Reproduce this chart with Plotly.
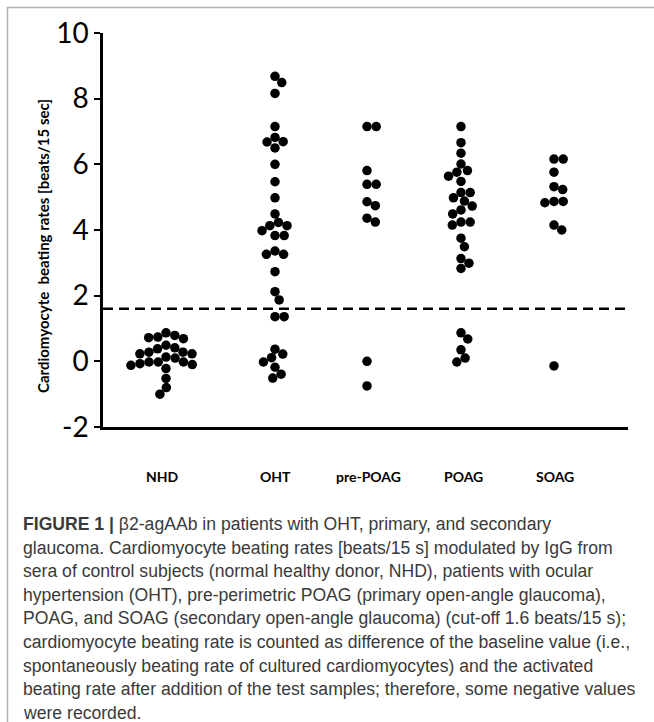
import numpy as np
import plotly.graph_objects as go

# ---------------- data ----------------
groups = ["NHD", "OHT", "pre-POAG", "POAG", "SOAG"]
nhd = [0.87, 0.79, 0.74, 0.72, 0.69, 0.49, 0.41, 0.38, 0.28, 0.28, 0.23, 0.23,
       0.13, 0.10, -0.02, -0.02, -0.02, -0.07, -0.10, -0.12, -0.22, -0.52, -0.80, -1.00]
oht = [8.68, 8.49, 8.16, 7.15, 6.82, 6.69, 6.68, 6.50, 6.00, 5.47, 4.98, 4.49,
       4.23, 4.13, 4.13, 3.98, 3.83, 3.83, 3.36, 3.26, 3.26, 2.73, 2.12, 1.87,
       1.36, 1.36, 0.37, 0.22, 0.11, -0.02, -0.18, -0.39, -0.51]
pre_poag = [7.15, 7.15, 5.81, 5.39, 5.39, 4.86, 4.74, 4.36, 4.24, 0.00, -0.75]
poag = [7.15, 6.66, 6.34, 6.01, 5.81, 5.76, 5.64, 5.48, 5.14, 5.14, 4.98, 4.88,
        4.73, 4.61, 4.49, 4.24, 4.24, 4.15, 3.75, 3.49, 3.13, 2.99, 2.83,
        0.87, 0.68, 0.35, 0.10, -0.02]
soag = [6.16, 6.16, 5.76, 5.32, 5.23, 4.87, 4.87, 4.83, 4.15, 4.00, -0.14]
series = [nhd, oht, pre_poag, poag, soag]
cutoff = 1.6
y_ticks = [-2, 0, 2, 4, 6, 8, 10]

caption_lines = [
    "<b>FIGURE 1 |</b> β2-agAAb in patients with OHT, primary, and secondary",
    "glaucoma. Cardiomyocyte beating rates [beats/15 s] modulated by IgG from",
    "sera of control subjects (normal healthy donor, NHD), patients with ocular",
    "hypertension (OHT), pre-perimetric POAG (primary open-angle glaucoma),",
    "POAG, and SOAG (secondary open-angle glaucoma) (cut-off 1.6 beats/15 s);",
    "cardiomyocyte beating rate is counted as difference of the baseline value (i.e.,",
    "spontaneously beating rate of cultured cardiomyocytes) and the activated",
    "beating rate after addition of the test samples; therefore, some negative values",
    "were recorded.",
]

# ---------------- layout geometry ----------------
W, H = 654, 722
L, R, T, B = 103, 628, 33, 427
PW, PH = R - L, B - T
YMIN, YMAX = -2, 10
yscale = PH / (YMAX - YMIN)          # px per unit
centers_px = [166, 275, 367, 461, 554]
label_px = [162, 275, 368, 463, 555]
centers = [c - L for c in centers_px]  # x-axis units = px from plot left


def px_x(px):
    return (px - L) / PW


def px_y(py):
    return (B - py) / PH


def swarm(vals, d, ys_scale):
    ys = np.array(vals, dtype=float) * ys_scale
    order = np.argsort(-ys, kind="stable")
    placed = []
    xs = np.zeros(len(vals))
    for i in order:
        y = ys[i]
        cands = [0.0]
        for xj, yj in placed:
            dy = abs(y - yj)
            if dy < d:
                dx = np.sqrt(d * d - dy * dy)
                cands += [xj - dx, xj + dx]
        best = 0.0
        for c in sorted(cands, key=lambda c: (round(abs(c), 6), -c)):
            if all((c - xj) ** 2 + (y - yj) ** 2 >= d * d - 1e-6 for xj, yj in placed):
                best = c
                break
        xs[i] = best
        placed.append((best, y))
    return xs


fig = go.Figure()
for name, vals, cx in zip(groups, series, centers):
    offs = swarm(vals, 9.2, yscale)
    fig.add_trace(go.Scatter(
        x=cx + offs, y=vals, mode="markers", name=name,
        marker=dict(color="black", size=9.5, line=dict(width=0)),
        showlegend=False, hoverinfo="y",
    ))

# cut-off dashed line
fig.add_shape(type="line", xref="paper", yref="y", x0=0, x1=1, y0=cutoff, y1=cutoff,
              line=dict(color="black", width=2.5, dash="10px,6px"))

annotations = []
for name, lx in zip(groups, label_px):
    annotations.append(dict(x=px_x(lx), y=px_y(476), xref="paper", yref="paper",
                            text=f"<b>{name}</b>",
                            showarrow=False, xanchor="center", yanchor="middle",
                            font=dict(family="Lato", size=14, color="black")))
annotations.append(dict(x=px_x(43), y=px_y(246), xref="paper", yref="paper",
                        text="<b>Cardiomyocyte  beating rates [beats/15 sec]</b>",
                        textangle=-90, showarrow=False, xanchor="center", yanchor="middle",
                        font=dict(family="Lato", size=15, color="black")))
for i, line in enumerate(caption_lines):
    annotations.append(dict(x=px_x(21), y=px_y(524 + i * 23.6), xref="paper", yref="paper",
                            text=line, showarrow=False, xanchor="left", yanchor="middle",
                            font=dict(family="Liberation Sans", size=17.6, color="#3a3a3a")))

# frame lines
fig.add_shape(type="line", xref="paper", yref="paper", x0=px_x(7.5), x1=px_x(7.5),
              y0=px_y(7), y1=px_y(722), line=dict(color="#b0b0b0", width=1.5))
fig.add_shape(type="line", xref="paper", yref="paper", x0=px_x(7), x1=px_x(654),
              y0=px_y(7.5), y1=px_y(7.5), line=dict(color="#b0b0b0", width=1.5))

fig.update_layout(
    width=W, height=H, autosize=False,
    margin=dict(l=L, r=W - R, t=T, b=H - B, pad=0),
    paper_bgcolor="white", plot_bgcolor="white",
    annotations=annotations,
    xaxis=dict(range=[0, PW], showgrid=False, zeroline=False, showticklabels=False,
               ticks="", showline=True, linecolor="black", linewidth=2.5, fixedrange=True),
    yaxis=dict(range=[YMIN, YMAX], tickvals=y_ticks, ticktext=[str(t) for t in y_ticks],
               showgrid=False, zeroline=False, showline=True, linecolor="black",
               linewidth=2.5, ticks="outside", ticklen=6, tickwidth=2, tickcolor="black",
               tickfont=dict(family="Lato", size=28, color="black"), fixedrange=True),
)

fig.write_html(
    "out.html",
    config={"displayModeBar": False},
    post_script="document.body.style.margin='0';document.body.style.overflow='hidden';",
)
